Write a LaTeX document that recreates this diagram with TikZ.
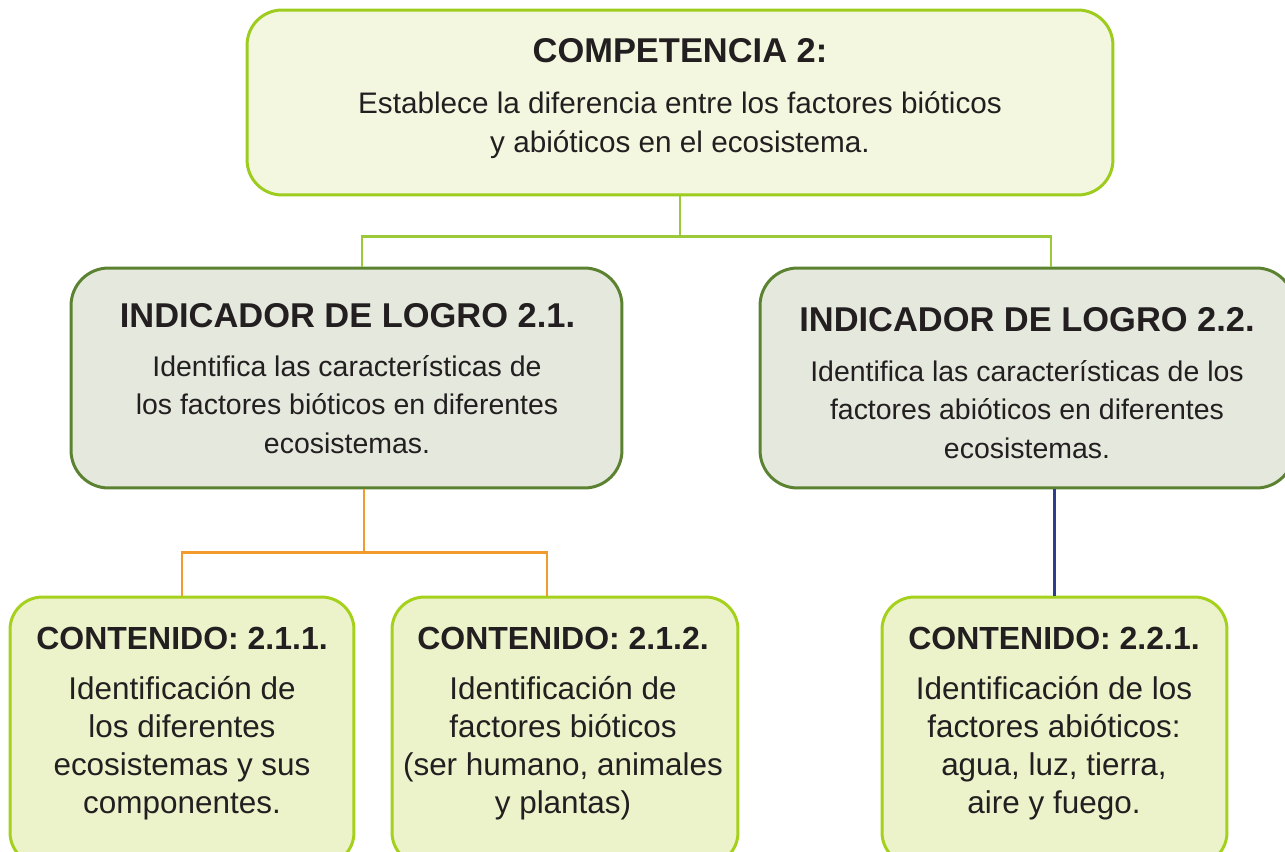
\documentclass[tikz,border=0pt]{standalone}
\usepackage{fontspec}
\setmainfont{Liberation Sans}
\usepackage{tikz}

\definecolor{topfill}{HTML}{F4F7DF}
\definecolor{topdraw}{HTML}{9DCB1E}
\definecolor{indfill}{HTML}{E5E8DD}
\definecolor{inddraw}{HTML}{5B8230}
\definecolor{confill}{HTML}{ECF3CB}
\definecolor{condraw}{HTML}{A5D11C}
\definecolor{txt}{HTML}{231F20}
\definecolor{lgreen}{HTML}{9BC93A}
\definecolor{lorange}{HTML}{F39A2C}
\definecolor{lblue}{HTML}{2D3E8E}

\tikzset{
  topbox/.style={draw=topdraw, fill=topfill, line width=1.7pt, rounded corners=0.7cm},
  indbox/.style={draw=inddraw, fill=indfill, line width=1.7pt, rounded corners=0.75cm},
  conbox/.style={draw=condraw, fill=confill, line width=1.7pt, rounded corners=0.65cm},
  head/.style={anchor=base, inner sep=0pt, text=txt, font=\bfseries\fontsize{19.6}{23}\selectfont},
  conhead/.style={head, font=\bfseries\fontsize{18.2}{22}\selectfont},
  body/.style={anchor=base, inner sep=0pt, align=center, text=txt},
  glink/.style={lgreen, line width=1.4pt},
  olink/.style={lorange, line width=1.6pt},
  blink/.style={lblue, line width=1.4pt}
}

\begin{document}
\begin{tikzpicture}[x=0.02cm, y=-0.02cm]

\useasboundingbox (0,0) rectangle (1285,852);

% competencia
\node[topbox, minimum width=17.32cm, minimum height=3.7cm] (comp) at (680,102.5) {};
\node[head] (comptitle) at (680,62) {COMPETENCIA 2:};
\node[body, font=\fontsize{16.9}{22}\selectfont] (comptext) at (680,152)
  {Establece la diferencia entre los factores bióticos\\ y abióticos en el ecosistema.};

% indicadores
\node[indbox, minimum width=11.02cm, minimum height=4.4cm] (ind1) at (346.5,378) {};
\node[head] (ind1title) at (347.5,327) {INDICADOR DE LOGRO 2.1.};
\node[body, font=\fontsize{16.2}{21.9}\selectfont] (ind1text) at (347,453)
  {Identifica las características de\\ los factores bióticos en diferentes\\ ecosistemas.};

\node[indbox, minimum width=10.68cm, minimum height=4.4cm] (ind2) at (1027,378) {};
\node[head] (ind2title) at (1027,331) {INDICADOR DE LOGRO 2.2.};
\node[body, font=\fontsize{16.2}{21.9}\selectfont] (ind2text) at (1027,458)
  {Identifica las características de los\\ factores abióticos en diferentes\\ ecosistemas.};

% contenidos
\node[conbox, minimum width=6.88cm, minimum height=5.36cm] (con1) at (182,731) {};
\node[conhead] (con1title) at (182,649) {CONTENIDO: 2.1.1.};
\node[body, font=\fontsize{17.9}{21.6}\selectfont] (con1text) at (182,813)
  {Identificación de\\ los diferentes\\ ecosistemas y sus\\ componentes.};

\node[conbox, minimum width=6.92cm, minimum height=5.36cm] (con2) at (565,731) {};
\node[conhead] (con2title) at (563,649) {CONTENIDO: 2.1.2.};
\node[body, font=\fontsize{17.9}{21.6}\selectfont] (con2text) at (563,813)
  {Identificación de\\ factores bióticos\\ (ser humano, animales\\ y plantas)};

\node[conbox, minimum width=6.9cm, minimum height=5.36cm] (con3) at (1054.5,731) {};
\node[conhead] (con3title) at (1054,649) {CONTENIDO: 2.2.1.};
\node[body, font=\fontsize{17.9}{21.6}\selectfont] (con3text) at (1054,813)
  {Identificación de los\\ factores abióticos:\\ agua, luz, tierra,\\ aire y fuego.};

% conectores
\draw[glink] (comp.south) -- ++(0,40) coordinate (jc);
\draw[glink] ([xshift=0.31cm]ind1.north) |- (jc) -| ([xshift=0.48cm]ind2.north);

\draw[olink] ([xshift=0.35cm]ind1.south) -- ++(0,63) coordinate (jo);
\draw[olink] (con1.north) |- (jo) -| ([xshift=-0.36cm]con2.north);

\draw[blink] (con3.north |- ind2.south) -- (con3.north);

\end{tikzpicture}
\end{document}
